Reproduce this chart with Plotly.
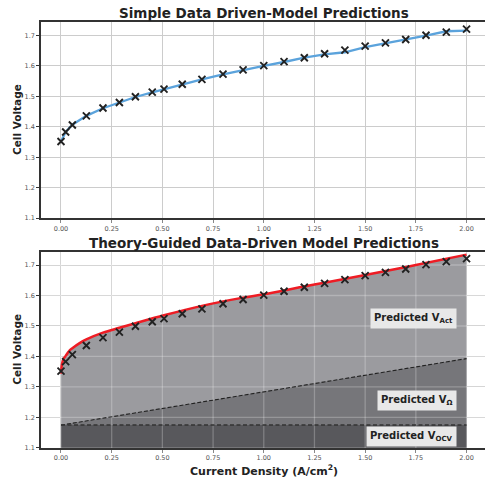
import plotly.graph_objects as go

# ---------------- data ----------------
x_meas = [0.0, 0.023, 0.056, 0.125, 0.207, 0.288, 0.367, 0.45, 0.508, 0.598, 0.695, 0.799,
          0.898, 1.0, 1.1, 1.2, 1.3, 1.4, 1.5, 1.6, 1.7, 1.8, 1.9, 2.0]
v_meas = [1.352, 1.383, 1.406, 1.436, 1.462, 1.480, 1.499, 1.514, 1.524, 1.540, 1.556, 1.573,
          1.587, 1.601, 1.614, 1.627, 1.640, 1.652, 1.665, 1.676, 1.687, 1.701, 1.711, 1.721]
v_dd_pred = [1.352, 1.383, 1.407, 1.436, 1.461, 1.480, 1.498, 1.513, 1.523, 1.540, 1.556, 1.572,
             1.587, 1.600, 1.613, 1.627, 1.638, 1.645, 1.662, 1.674, 1.686, 1.700, 1.714, 1.716]

x_tg = [0.0, 0.005, 0.012, 0.023, 0.04, 0.056, 0.09, 0.125, 0.207, 0.288, 0.367, 0.508,
        0.695, 0.898, 1.0, 1.25, 1.5, 1.75, 2.0]
v_total = [1.344, 1.375, 1.392, 1.402, 1.418, 1.427, 1.443, 1.456, 1.478, 1.494, 1.509, 1.535,
           1.566, 1.593, 1.604, 1.636, 1.667, 1.700, 1.734]
x_lin = [0.0, 2.0]
v_ohm_top = [1.175, 1.393]
v_ocv = [1.175, 1.175]

x_ticks = [0.0, 0.25, 0.5, 0.75, 1.0, 1.25, 1.5, 1.75, 2.0]
y_ticks = [1.1, 1.2, 1.3, 1.4, 1.5, 1.6, 1.7]

# ---------------- layout constants ----------------
W, H = 485, 481
XR = [-0.0986, 2.091]
YR = [1.1, 1.745]
FONT = "DejaVu Sans"
TICKC = "#555555"
SPINE = "#333333"
GRID = "#cccccc"

fig = go.Figure()

# ---- top subplot ----
fig.add_trace(go.Scatter(x=x_meas, y=v_dd_pred, mode="lines",
                         line=dict(color="#5ba3dc", width=2.3),
                         xaxis="x", yaxis="y", showlegend=False))
fig.add_trace(go.Scatter(x=x_meas, y=v_meas, mode="markers",
                         marker=dict(symbol="x-thin", size=7, line=dict(width=1.9, color="#222222")),
                         xaxis="x", yaxis="y", showlegend=False))

# ---- bottom subplot: stacked fills ----
fig.add_trace(go.Scatter(x=x_tg, y=v_total, mode="lines", fill="tozeroy",
                         fillcolor="#9b9b9f", line=dict(width=0),
                         xaxis="x2", yaxis="y2", showlegend=False))
fig.add_trace(go.Scatter(x=x_lin, y=v_ohm_top, mode="lines", fill="tozeroy",
                         fillcolor="#76767a", line=dict(width=0),
                         xaxis="x2", yaxis="y2", showlegend=False))
fig.add_trace(go.Scatter(x=x_lin, y=v_ocv, mode="lines", fill="tozeroy",
                         fillcolor="#58585c", line=dict(width=0),
                         xaxis="x2", yaxis="y2", showlegend=False))

# grid drawn above the fills (as in the reference)
gx, gy = [], []
for t in x_ticks:
    gx += [t, t, None]
    gy += [YR[0], YR[1], None]
for t in y_ticks:
    gx += [XR[0], XR[1], None]
    gy += [t, t, None]
fig.add_trace(go.Scatter(x=gx, y=gy, mode="lines",
                         line=dict(color="rgba(255,255,255,0.24)", width=1.3),
                         xaxis="x2", yaxis="y2", showlegend=False, hoverinfo="skip"))

fig.add_trace(go.Scatter(x=x_lin, y=v_ohm_top, mode="lines",
                         line=dict(color="#222222", width=1.1, dash="4px,2px"),
                         xaxis="x2", yaxis="y2", showlegend=False))
fig.add_trace(go.Scatter(x=x_lin, y=v_ocv, mode="lines",
                         line=dict(color="#333333", width=1.5, dash="4px,2.5px"),
                         xaxis="x2", yaxis="y2", showlegend=False))
fig.add_trace(go.Scatter(x=x_tg, y=v_total, mode="lines",
                         line=dict(color="#ee1c24", width=2.5, shape="spline"),
                         xaxis="x2", yaxis="y2", showlegend=False))
fig.add_trace(go.Scatter(x=x_meas, y=v_meas, mode="markers",
                         marker=dict(symbol="x-thin", size=7, line=dict(width=1.9, color="#222222")),
                         xaxis="x2", yaxis="y2", showlegend=False))


def xax(anchor):
    return dict(range=XR, domain=[41 / W, 1.0], anchor=anchor,
                tickmode="array", tickvals=x_ticks, tickformat=".2f",
                tickfont=dict(family=FONT, size=6.5, color=TICKC),
                showgrid=True, gridcolor=GRID, gridwidth=1.3, zeroline=False,
                showline=True, linecolor=SPINE, linewidth=1.5, mirror=True,
                ticks="outside", ticklen=3, tickcolor="#888888", tickwidth=1)


def yax(dom, anchor, rng):
    return dict(range=rng, domain=dom, anchor=anchor,
                tickmode="array", tickvals=y_ticks, tickformat=".1f",
                tickfont=dict(family=FONT, size=6.5, color=TICKC),
                showgrid=True, gridcolor=GRID, gridwidth=1.3, zeroline=False,
                showline=True, linecolor=SPINE, linewidth=1.5, mirror=False,
                ticks="outside", ticklen=3, tickcolor=SPINE, tickwidth=1)


top_dom = [1 - 220 / H, 1 - 22 / H]
bot_dom = [1 - 451.7 / H, 1 - 253.7 / H]

fig.update_layout(
    width=W, height=H, margin=dict(l=0, r=0, t=0, b=0),
    paper_bgcolor="white", plot_bgcolor="white",
    font=dict(family=FONT, color="#222222"),
    xaxis=xax("y"), yaxis=yax(top_dom, "x", YR),
    xaxis2=xax("y2"), yaxis2=yax(bot_dom, "x2", [1.1, 1.744]),
    showlegend=False,
)

cx = 264 / W
ann = [
    dict(text="<b>Simple Data Driven-Model Predictions</b>", x=cx, y=1 - 13 / H,
         font=dict(size=13.5, family=FONT, color="#222222")),
    dict(text="<b>Theory-Guided Data-Driven Model Predictions</b>", x=cx, y=1 - 245 / H,
         font=dict(size=13.5, family=FONT, color="#222222")),
    dict(text="<b>Current Density (A/cm<sup>2</sup>)</b>", x=cx, y=1 - 474 / H,
         font=dict(size=11, family=FONT, color="#222222")),
    dict(text="<b>Cell Voltage</b>", x=17 / W, y=1 - 121 / H, textangle=-90,
         font=dict(size=10.5, family=FONT, color="#222222")),
    dict(text="<b>Cell Voltage</b>", x=17 / W, y=1 - 352.7 / H, textangle=-90,
         font=dict(size=10.5, family=FONT, color="#222222")),
]
for a in ann:
    fig.add_annotation(xref="paper", yref="paper", showarrow=False,
                       xanchor="center", yanchor="middle", **a)

box_labels = [
    ("<b>Predicted V<sub>Act</sub></b>", 1.524),
    ("<b>Predicted V<sub>Ω</sub></b>", 1.256),
    ("<b>Predicted V<sub>OCV</sub></b>", 1.1365),
]
for txt, yv in box_labels:
    fig.add_annotation(xref="x2", yref="y2", x=1.953, y=yv, text=txt, showarrow=False,
                       xanchor="right", yanchor="middle",
                       font=dict(size=10, family=FONT, color="#222222"),
                       bgcolor="#e8e8e8", borderpad=3)

fig.write_html("out.html")
